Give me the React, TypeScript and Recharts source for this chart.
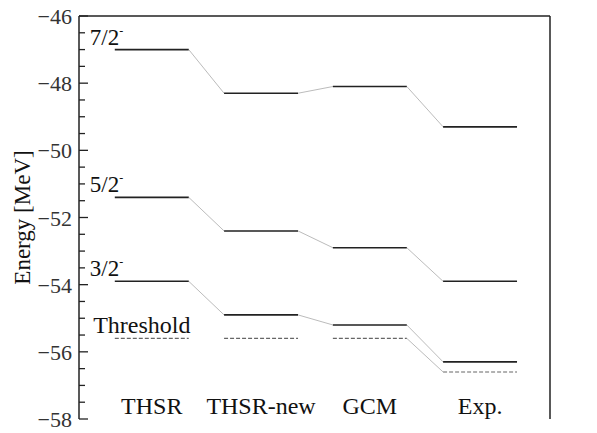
import {
  LineChart,
  Line,
  XAxis,
  YAxis,
  ReferenceLine,
  ReferenceDot,
} from "recharts";

const categories = ["THSR", "THSR-new", "GCM", "Exp."];
const columnStarts = [7.6, 30.8, 53.9, 77.3];
const columnWidth = 15.7;

const level72 = [-47.0, -48.3, -48.1, -49.3];
const level52 = [-51.4, -52.4, -52.9, -53.9];
const level32 = [-53.9, -54.9, -55.2, -56.3];
const threshold = [-55.6, -55.6, -55.6, -56.6];

const stateLabels = ["7/2", "5/2", "3/2"];
const yDomain = [-58, -46];

const FONT = "Liberation Serif, DejaVu Serif, serif";

const allTicks: number[] = [];
for (let v = yDomain[0]; v <= yDomain[1]; v += 0.5) allTicks.push(v);

// horizontal bars with gaps between columns
function levelPoints(values: number[]) {
  const pts: { x: number; y: number | null }[] = [];
  values.forEach((v, i) => {
    pts.push({ x: columnStarts[i], y: v });
    pts.push({ x: columnStarts[i] + columnWidth, y: v });
    if (i < values.length - 1) {
      pts.push({ x: columnStarts[i] + columnWidth + 1, y: null });
    }
  });
  return pts;
}

// thin slanted links from the end of one bar to the start of the next
function connectorPoints(values: number[]) {
  const pts: { x: number; y: number | null }[] = [];
  for (let i = 0; i < values.length - 1; i++) {
    if (values[i] === values[i + 1]) continue;
    pts.push({ x: columnStarts[i] + columnWidth, y: values[i] });
    pts.push({ x: columnStarts[i + 1], y: values[i + 1] });
    pts.push({ x: columnStarts[i + 1] + 1, y: null });
  }
  return pts;
}

const YTick = (props: any) => {
  const { x, y, payload, side } = props;
  const v = payload.value;
  const major = Math.abs(v % 2) < 1e-6;
  const len = major ? 9 : 6;
  const dir = side === "left" ? 1 : -1;
  return (
    <g>
      <line x1={x} y1={y} x2={x + dir * len} y2={y} stroke="#222" strokeWidth={1.3} />
      {major && (
        <text
          x={side === "left" ? x - 7 : x + 9}
          y={y}
          dy={8}
          textAnchor={side === "left" ? "end" : "start"}
          fontSize={22}
          style={{ fontFamily: FONT }}
          fill="#333"
        >
          {String(v).replace("-", "\u2212")}
        </text>
      )}
    </g>
  );
};

const StateLabel = (text: string) => (props: any) => {
  const { viewBox } = props;
  return (
    <text x={viewBox.x} y={viewBox.y} dy={-5} fontSize={23} style={{ fontFamily: FONT }} fill="#111">
      {text}
      <tspan fontSize={12} dy={-10}>
        -
      </tspan>
    </text>
  );
};

const PlainLabel = (text: string, anchor: string, size: number) => (props: any) => {
  const { viewBox } = props;
  return (
    <text
      x={viewBox.x}
      y={viewBox.y}
      dy={-5}
      textAnchor={anchor}
      fontSize={size}
      style={{ fontFamily: FONT }}
      fill="#111"
    >
      {text}
    </text>
  );
};

const EnergyLabel = (props: any) => {
  const { viewBox } = props;
  const cy = viewBox.y + viewBox.height / 2;
  return (
    <text
      x={22}
      y={cy}
      transform={`rotate(-90, 22, ${cy})`}
      dy={8}
      textAnchor="middle"
      fontSize={23}
      style={{ fontFamily: FONT }}
      fill="#111"
    >
      Energy [MeV]
    </text>
  );
};

const series = [level72, level52, level32];

export default function App() {
  return (
    <div style={{ position: "absolute", left: 0, top: 0 }}>
      <LineChart
        width={597}
        height={433}
        margin={{ top: 16, right: 0, bottom: 14, left: 0 }}
      >
        <XAxis
          dataKey="x"
          type="number"
          domain={[0, 100]}
          tick={false}
          height={0}
          axisLine={{ stroke: "#222", strokeWidth: 1.5 }}
          tickLine={false}
          allowDuplicatedCategory={false}
        />
        <YAxis
          yAxisId="left"
          domain={yDomain}
          ticks={allTicks}
          interval={0}
          width={79}
          tickSize={0}
          tickMargin={0}
          axisLine={{ stroke: "#222", strokeWidth: 1.5 }}
          tick={<YTick side="left" />}
          label={<EnergyLabel />}
        />
        <YAxis
          yAxisId="right"
          orientation="right"
          domain={yDomain}
          ticks={allTicks}
          interval={0}
          width={47}
          tickSize={0}
          tickMargin={0}
          axisLine={{ stroke: "#222", strokeWidth: 1.5 }}
          tick={<YTick side="right" />}
        />
        <ReferenceLine yAxisId="left" y={-46} stroke="#222" strokeWidth={1.5} />

        {[...series, threshold].map((vals, i) => (
          <Line
            key={`c${i}`}
            yAxisId="left"
            data={connectorPoints(vals)}
            dataKey="y"
            stroke="#aaaaaa"
            strokeWidth={0.8}
            dot={false}
            isAnimationActive={false}
          />
        ))}
        {series.map((vals, i) => (
          <Line
            key={`l${i}`}
            yAxisId="left"
            data={levelPoints(vals)}
            dataKey="y"
            stroke="#222"
            strokeWidth={1.6}
            dot={false}
            isAnimationActive={false}
          />
        ))}
        <Line
          yAxisId="left"
          data={levelPoints(threshold)}
          dataKey="y"
          stroke="#666"
          strokeWidth={1.1}
          strokeDasharray="4 2"
          dot={false}
          isAnimationActive={false}
        />

        {series.map((vals, i) => (
          <ReferenceDot
            key={`s${i}`}
            yAxisId="left"
            x={2.3}
            y={vals[0]}
            r={0}
            stroke="none"
            label={StateLabel(stateLabels[i])}
          />
        ))}
        <ReferenceDot
          yAxisId="left"
          x={3.0}
          y={threshold[0]}
          r={0}
          stroke="none"
          label={PlainLabel("Threshold", "start", 24)}
        />
        {categories.map((c, i) => (
          <ReferenceDot
            key={c}
            yAxisId="left"
            x={columnStarts[i] + columnWidth / 2}
            y={-58}
            r={0}
            stroke="none"
            label={PlainLabel(c, "middle", 24)}
          />
        ))}
      </LineChart>
    </div>
  );
}
